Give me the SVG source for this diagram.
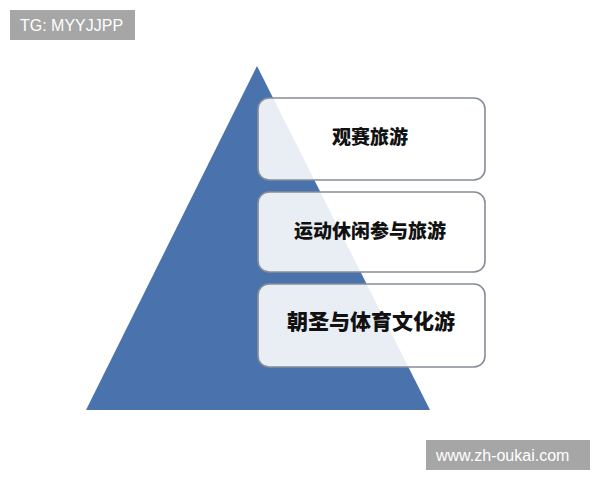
<svg xmlns="http://www.w3.org/2000/svg" width="600" height="480" viewBox="0 0 600 480">
<style>
.box{fill:#ffffff;fill-opacity:0.88;stroke:#868c96;stroke-width:1.6}
.lbl{font-family:"Noto Sans CJK SC","Noto Sans CJK JP",sans-serif;font-weight:900;fill:#111111;text-anchor:middle}
.wm{fill:#a6a6a6}
.wmt{font-family:"Liberation Sans",Arial,sans-serif;font-size:16px;fill:#ffffff}
</style>
<rect width="600" height="480" fill="#ffffff"/>
<g id="pyramid">
<polygon points="257,66 430,410 86,410" fill="#4a72ad"/>
</g>
<g id="connectors"></g>
<g id="node1">
<rect class="box" x="258" y="98" width="227" height="82" rx="11"/>
<text class="lbl" x="370" y="144" font-size="19">观赛旅游</text>
</g>
<g id="node2">
<rect class="box" x="258" y="192" width="227" height="80" rx="11"/>
<text class="lbl" x="370" y="238" font-size="19">运动休闲参与旅游</text>
</g>
<g id="node3">
<rect class="box" x="258" y="284" width="227" height="83" rx="11"/>
<text class="lbl" x="371" y="329" font-size="21">朝圣与体育文化游</text>
</g>
<g id="watermark1">
<rect class="wm" x="10" y="10" width="125" height="30"/>
<text class="wmt" x="20" y="31">TG: MYYJJPP</text>
</g>
<g id="watermark2">
<rect class="wm" x="426" y="440" width="164" height="30"/>
<text class="wmt" x="436" y="461">www.zh-oukai.com</text>
</g>
</svg>
